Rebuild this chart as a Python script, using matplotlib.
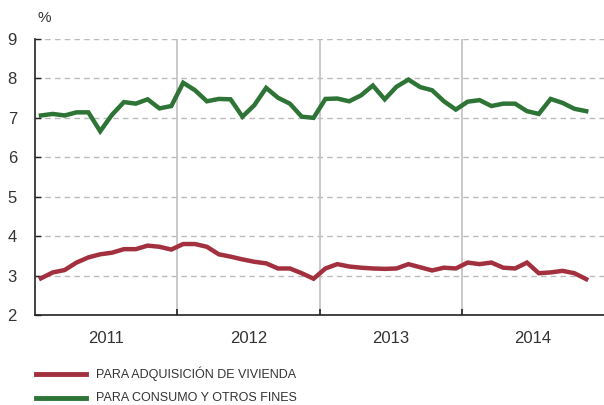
import matplotlib
matplotlib.use("Agg")
import matplotlib.pyplot as plt
import numpy as np

plt.rcParams['font.family'] = ['Liberation Sans', 'DejaVu Sans']

years = ["2011", "2012", "2013", "2014"]
vivienda = [2.93, 3.08, 3.14, 3.33, 3.46, 3.54, 3.58, 3.67, 3.67, 3.76, 3.73, 3.66,
            3.80, 3.80, 3.73, 3.54, 3.48, 3.41, 3.35, 3.31, 3.18, 3.18, 3.06, 2.92,
            3.18, 3.29, 3.23, 3.20, 3.18, 3.17, 3.18, 3.29, 3.21, 3.13, 3.20, 3.18,
            3.33, 3.29, 3.33, 3.20, 3.18, 3.33, 3.06, 3.08, 3.12, 3.06, 2.91]
consumo = [7.06, 7.10, 7.06, 7.14, 7.14, 6.66, 7.08, 7.40, 7.36, 7.47, 7.24, 7.30,
           7.89, 7.70, 7.42, 7.48, 7.47, 7.03, 7.32, 7.76, 7.51, 7.36, 7.03, 7.00,
           7.48, 7.49, 7.42, 7.57, 7.82, 7.47, 7.79, 7.97, 7.78, 7.70, 7.42, 7.21,
           7.41, 7.45, 7.30, 7.36, 7.36, 7.17, 7.10, 7.48, 7.38, 7.23, 7.17]
labels = ["PARA ADQUISICIÓN DE VIVIENDA", "PARA CONSUMO Y OTROS FINES"]

red = "#A3303F"
green = "#2E7436"
txt = "#333333"

fig = plt.figure(figsize=(6.04, 4.05), dpi=100)
ax = fig.add_axes([35/604, 1-315/405, 569/604, (315-39)/405])

x = np.arange(len(vivienda)) + 0.5
ax.plot(x, vivienda, color=red, lw=3.2, solid_joinstyle="miter", zorder=3)
ax.plot(x, consumo, color=green, lw=3.2, solid_joinstyle="miter", zorder=3)

ax.set_xlim(0, 48)
ax.set_ylim(2, 9)
ax.set_yticks(range(2, 10))
ax.tick_params(axis="y", direction="in", length=4, width=1, labelsize=12, colors="#222222", pad=13)
for lbl in ax.get_yticklabels():
    lbl.set_color(txt)
for yv in range(3, 10):
    ax.axhline(yv, color="#bbbbbb", lw=1, ls=(0, (4, 3)), zorder=1)
for xv in [12, 24, 36]:
    ax.axvline(xv, color="#c0c0c0", lw=1.2, zorder=1)

ax.set_xticks([12, 24, 36])
ax.set_xticklabels([])
ax.tick_params(axis="x", direction="in", length=4, width=1.2, colors="#222222")
for i, yr in enumerate(years):
    ax.text(i*12 + 6, 1.40, yr, ha="center", va="center", fontsize=12, color=txt)

for s in ["top", "right"]:
    ax.spines[s].set_visible(False)
for s in ["left", "bottom"]:
    ax.spines[s].set_linewidth(1.2)
    ax.spines[s].set_color("#222222")

fig.text(38/604, 1-18/405, "%", fontsize=11, color=txt, va="center")

for j, (lab, c) in enumerate(zip(labels, [red, green])):
    yy = 1 - (374 + j*24)/405
    fig.add_artist(plt.Line2D([36/604, 86/604], [yy, yy], color=c, lw=3.5, transform=fig.transFigure))
    fig.text(96/604, yy, lab, fontsize=9, color=txt, va="center")

fig.savefig("out.png", dpi=100)
